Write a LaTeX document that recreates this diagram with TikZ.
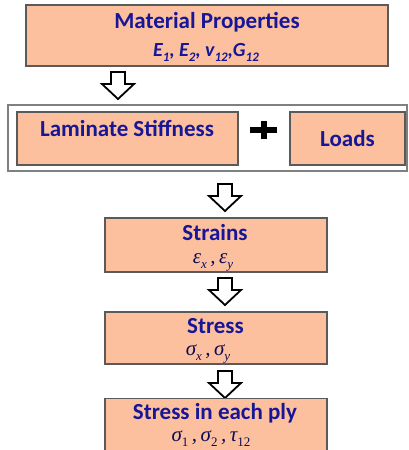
\documentclass[tikz,border=0pt]{standalone}
\usepackage{fontspec}
\setmainfont{Carlito}
\newfontfamily\symfont{Liberation Serif}
\definecolor{boxfill}{RGB}{252,192,158}
\definecolor{boxline}{RGB}{90,90,90}
\definecolor{txtblue}{RGB}{22,22,150}
\newcommand\hollowdown[3]{% name, centre x, top y
  \draw[blockarrow] (#2-7,#3) -- (#2+7,#3) -- (#2+7,#3+12) -- (#2+16,#3+12)
    -- (#2,#3+27) -- (#2-16,#3+12) -- (#2-7,#3+12) -- cycle;
  \coordinate (#1) at (#2,#3);}
\newcommand\lowsub[1]{\raisebox{-0.25em}{\fontsize{13}{13}\selectfont #1}}
\begin{document}
\begin{tikzpicture}[x=1pt,y=-1pt,
  stepbox/.style={draw=boxline,line width=1.1pt,fill=boxfill,inner sep=0pt},
  title/.style={text=txtblue,font=\fontsize{23}{25}\selectfont\bfseries,anchor=base,inner sep=0pt},
  symline/.style={text=txtblue!55!black,font=\fontsize{21}{23}\symfont\itshape,anchor=base,inner sep=0pt},
  blockarrow/.style={draw=black,line width=1.8pt,fill=white,line join=miter}]
\useasboundingbox (0,0) rectangle (408,450);
\clip (0,0) rectangle (408,450);
% material properties
\node[stepbox,minimum width=362pt,minimum height=61pt] (mat) at (207,35.5) {};
\node[title] (matT) at (207,28) {Material Properties};
\node[title,font=\fontsize{20}{22}\selectfont\bfseries\itshape] (matS) at (206,56)
  {E\lowsub{1}, E\lowsub{2}, v\lowsub{12},G\lowsub{12}};
\hollowdown{a1}{118}{72}
% stiffness and loads
\node[draw=gray,line width=1.2pt,fill=white,minimum width=399pt,minimum height=66pt] (group) at (207.5,138) {};
\node[stepbox,minimum width=221pt,minimum height=53pt] (lam) at (127.5,138.5) {};
\node[title] (lamT) at (127,136) {Laminate Stiffness};
\node[stepbox,minimum width=115pt,minimum height=53pt] (loads) at (347.5,138.5) {};
\node[title] (loadsT) at (347.5,146) {Loads};
\fill (250,127) rectangle (277,133);
\fill (260.5,121) rectangle (266.5,139);
\hollowdown{a2}{225}{184}
% strains
\node[stepbox,minimum width=222pt,minimum height=54pt] (strain) at (216,245) {};
\node[title] (strainT) at (215,240.5) {Strains};
\node[symline] (strainS) at (213,263) {ε\lowsub{x}\,,\,ε\lowsub{y}};
\hollowdown{a3}{225}{278}
% stresses
\node[stepbox,minimum width=222pt,minimum height=52pt] (stress) at (216,338) {};
\node[title] (stressT) at (215.5,333.5) {Stress};
\node[symline] (stressS) at (208,355) {σ\lowsub{x}\,,\,σ\lowsub{y}};
\hollowdown{a4}{225}{371}
% ply stresses
\node[stepbox,minimum width=222pt,minimum height=60pt,anchor=north] (ply) at (216,397.5) {};
\node[title] (plyT) at (215,419) {Stress in each ply};
\node[symline] (plyS) at (211,441.5) {σ{\upshape\lowsub{1}}\,,\,σ{\upshape\lowsub{2}}\,,\,τ{\upshape\lowsub{12}}};
\end{tikzpicture}
\end{document}
